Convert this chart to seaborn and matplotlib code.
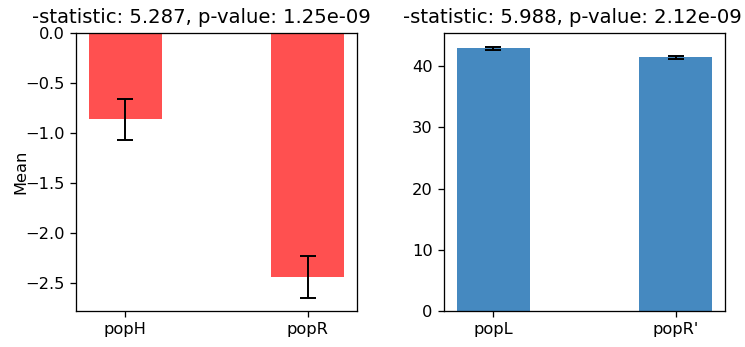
import matplotlib
matplotlib.use("Agg")
import matplotlib.pyplot as plt
import seaborn as sns
import pandas as pd

# Group means and their error half-widths
left_groups = ["popH", "popR"]
left_means = [-0.86, -2.44]
left_errs = [0.205, 0.21]
left_title = "-statistic: 5.287, p-value: 1.25e-09"

right_groups = ["popL", "popR'"]
right_means = [42.9, 41.4]
right_errs = [0.2, 0.2]
right_title = "-statistic: 5.988, p-value: 2.12e-09"

red = "#FF5050"
blue = "#4589C0"

DPI = 117
fig = plt.figure(figsize=(745 / DPI, 347 / DPI), dpi=DPI)
ax1 = fig.add_axes([76 / 745, 36 / 347, 281 / 745, 278 / 347])
ax2 = fig.add_axes([444 / 745, 36 / 347, 281 / 745, 278 / 347])


def draw(ax, groups, means, errs, color, title, title_x):
    df = pd.DataFrame({"group": groups, "mean": means})
    sns.barplot(data=df, x="group", y="mean", color=color, width=0.4,
                saturation=1, errorbar=None, ax=ax, linewidth=0)
    ax.errorbar(range(len(groups)), means, yerr=errs, fmt="none",
                ecolor="black", elinewidth=1.2, capsize=5, capthick=1.2)
    ax.set_xlim(-0.27, 1.27)
    ax.set_xlabel("")
    ax.set_title(title, fontsize=12.1, x=title_x)


draw(ax1, left_groups, left_means, left_errs, red, left_title, 0.445)
ax1.set_ylim(-2.78, 0.0)
ax1.set_ylabel("Mean", labelpad=-2)

draw(ax2, right_groups, right_means, right_errs, blue, right_title, 0.456)
ax2.set_ylim(0, 45.4)
ax2.set_ylabel("")

fig.savefig("out.png", dpi=DPI)
